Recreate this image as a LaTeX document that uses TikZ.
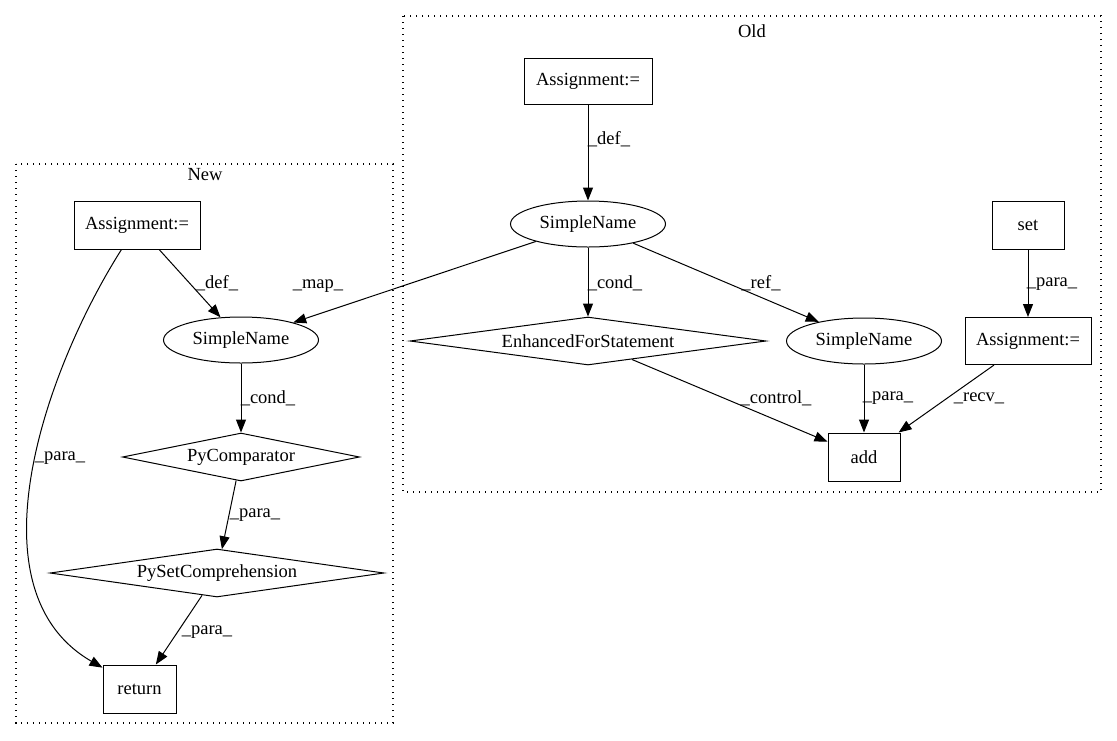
\documentclass[tikz,border=0pt]{standalone}
\usepackage{fontspec}
\setmainfont{Liberation Serif}
\usetikzlibrary{shapes.geometric,arrows.meta}
\begin{document}
\begin{tikzpicture}[x=1pt,y=-1pt,
  every node/.style={font=\fontsize{18.5}{21}\selectfont, inner sep=0pt},
  box/.style={draw, line width=1pt, rectangle},
  oval/.style={draw, line width=1pt, ellipse, minimum width=155pt, minimum height=46pt},
  dia/.style={draw, line width=1pt, diamond},
  e/.style={line width=1pt, -{Triangle[length=13pt,width=10pt]}},
  clus/.style={line width=1.3pt, dash pattern=on 1.4pt off 4.6pt},
  lbl/.style={}]
\useasboundingbox (0,0) rectangle (1117,740);
% clusters
\draw[clus] (403,16) rectangle (1101,492);
\draw[clus] (16,164) rectangle (393,723);
\node (oldlbl) at (752,31) {Old};
\node (newlbl) at (205,175) {New};
% Old nodes
\node[box, minimum width=128pt, minimum height=46pt] (oa) at (588,81) {Assignment:=};
\node[oval] (osn) at (588,224) {SimpleName};
\node[box, minimum width=72pt, minimum height=48pt] (set) at (1028,225) {set};
\node[dia, minimum width=356pt, minimum height=48pt, shape aspect=7.4] (efs) at (588,341) {EnhancedForStatement};
\node[oval] (rsn) at (864,341) {SimpleName};
\node[box, minimum width=126pt, minimum height=47pt] (ra) at (1028,341) {Assignment:=};
\node[box, minimum width=72pt, minimum height=48pt] (add) at (864,457) {add};
% New nodes
\node[box, minimum width=126pt, minimum height=48pt] (na) at (137,225) {Assignment:=};
\node[oval] (nsn) at (241,340) {SimpleName};
\node[dia, minimum width=237pt, minimum height=48pt, shape aspect=4.9] (pc) at (241,457) {PyComparator};
\node[dia, minimum width=334pt, minimum height=48pt, shape aspect=7] (psc) at (217,573) {PySetComprehension};
\node[box, minimum width=73pt, minimum height=48pt] (ret) at (139.5,689) {return};
% edges
\draw[e] (oa) -- (osn);
\draw[e] (osn) -- (nsn);
\draw[e] (osn) -- (efs);
\draw[e] (osn) -- (rsn);
\draw[e] (set) -- (ra);
\draw[e] (efs) -- (add);
\draw[e] (rsn) -- (add);
\draw[e] (ra) -- (add);
\draw[e] (na) -- (nsn);
\draw[e] (na) .. controls (45,370) and (-32,590) .. (ret);
\draw[e] (nsn) -- (pc);
\draw[e] (pc) -- (psc);
\draw[e] (psc) -- (ret);
% labels
\node[lbl] (l1) at (609,139) {\_def\_};
\node[lbl] (l2) at (318,286) {\_map\_};
\node[lbl] (l3) at (615,283) {\_cond\_};
\node[lbl] (l4) at (761,283) {\_ref\_};
\node[lbl] (l5) at (1052,284) {\_para\_};
\node[lbl] (l6) at (776,398) {\_control\_};
\node[lbl] (l7) at (888,398) {\_para\_};
\node[lbl] (l8) at (979,398) {\_recv\_};
\node[lbl] (l9) at (217,283) {\_def\_};
\node[lbl] (l10) at (60,458) {\_para\_};
\node[lbl] (l11) at (268,398) {\_cond\_};
\node[lbl] (l12) at (255,515) {\_para\_};
\node[lbl] (l13) at (207,632) {\_para\_};
\end{tikzpicture}
\end{document}
